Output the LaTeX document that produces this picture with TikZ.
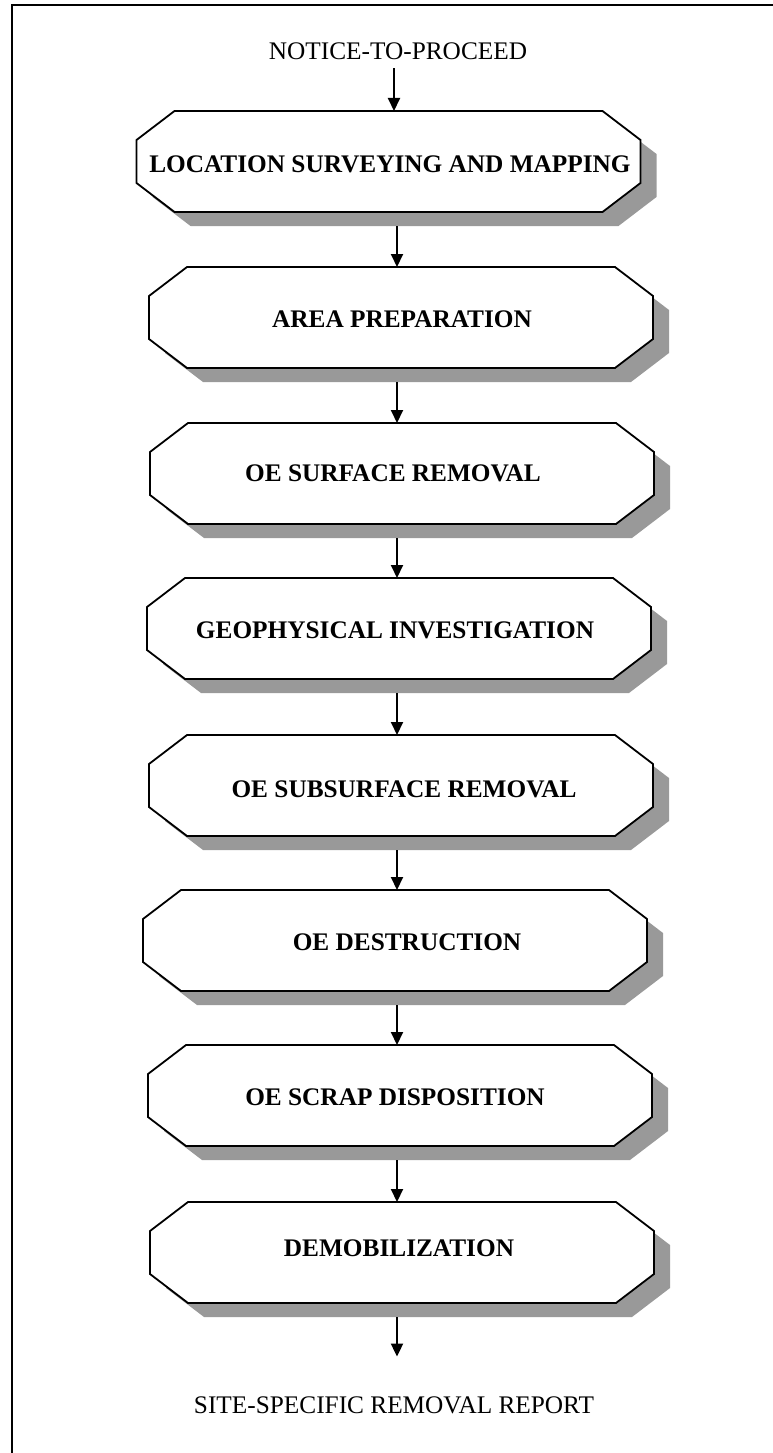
\documentclass[tikz,border=0pt]{standalone}
\usepackage{fontspec}
\setmainfont{Liberation Serif}
\usetikzlibrary{arrows.meta,calc}
\definecolor{shadowgray}{RGB}{153,153,153}

% Octagonal outline around a box node, shifted by (#2,#3); chamfers 38pt x 29pt
\newcommand\octpath[3]{%
  ([xshift=#2+38pt,yshift=#3]#1.north west) -- ([xshift=#2-38pt,yshift=#3]#1.north east)
  -- ([xshift=#2,yshift=#3-29pt]#1.north east) -- ([xshift=#2,yshift=#3+29pt]#1.south east)
  -- ([xshift=#2-38pt,yshift=#3]#1.south east) -- ([xshift=#2+38pt,yshift=#3]#1.south west)
  -- ([xshift=#2,yshift=#3+29pt]#1.south west) -- ([xshift=#2,yshift=#3-29pt]#1.north west) -- cycle}

% One process step: box name, box centre, label name, label base point, label text
\newcommand\flowstep[7]{%
  \node[boxframe] (#1) at (#2,#3) {};
  \fill[boxshadow] \octpath{#1}{16pt}{-14pt};
  \filldraw[boxoutline] \octpath{#1}{0pt}{0pt};
  \node[boxtext] (#4) at (#5,#6) {#7};
}

\begin{document}
\begin{tikzpicture}[x=1pt,y=-1pt,
  boxframe/.style={rectangle, inner sep=0pt, outer sep=0pt,
    minimum width=504pt, minimum height=101pt},
  boxtext/.style={font=\fontsize{25.3}{30}\selectfont\bfseries, inner sep=0pt, anchor=base},
  endtext/.style={font=\fontsize{25.3}{30}\selectfont, inner sep=0pt, anchor=base},
  flowarrow/.style={line width=2pt, -{Triangle[length=13pt,width=12pt]}},
  boxoutline/.style={line width=1.8pt, line join=miter, fill=white},
  boxshadow/.style={fill=shadowgray}]
\useasboundingbox (0,0) rectangle (773,1453);

% page frame
\draw[line width=2pt] (12,1453) -- (12,5) -- (773,5);

% arrow columns
\coordinate (ax1) at (394,0);
\coordinate (ax) at (397,0);

\node[endtext] (ntp) at (398,59.5) {NOTICE-TO-PROCEED};

\flowstep{b1}{388.5}{161.5}{t1}{390}{172}{LOCATION SURVEYING AND MAPPING}
\flowstep{b2}{401}{317.5}{t2}{402}{327}{AREA PREPARATION}
\flowstep{b3}{402}{473.5}{t3}{393}{481.5}{OE SURFACE REMOVAL}
\flowstep{b4}{399}{628.5}{t4}{395}{638}{GEOPHYSICAL INVESTIGATION}
\flowstep{b5}{401}{785.5}{t5}{404}{797.5}{OE SUBSURFACE REMOVAL}
\flowstep{b6}{395}{940.5}{t6}{407}{950.5}{OE DESTRUCTION}
\flowstep{b7}{400}{1095.5}{t7}{395}{1105.5}{OE SCRAP DISPOSITION}
\flowstep{b8}{402}{1252.5}{t8}{399}{1256.5}{DEMOBILIZATION}

\node[endtext] (ssr) at (394,1413.5) {SITE-SPECIFIC REMOVAL REPORT};

% connectors
\draw[flowarrow] ([yshift=-8.5pt]ntp.south -| ax1) -- (b1.north -| ax1);
\draw[flowarrow] ([yshift=-14pt]b1.south -| ax) -- (b2.north -| ax);
\draw[flowarrow] ([yshift=-14pt]b2.south -| ax) -- (b3.north -| ax);
\draw[flowarrow] ([yshift=-14pt]b3.south -| ax) -- (b4.north -| ax);
\draw[flowarrow] ([yshift=-14pt]b4.south -| ax) -- (b5.north -| ax);
\draw[flowarrow] ([yshift=-14pt]b5.south -| ax) -- (b6.north -| ax);
\draw[flowarrow] ([yshift=-14pt]b6.south -| ax) -- (b7.north -| ax);
\draw[flowarrow] ([yshift=-14pt]b7.south -| ax) -- (b8.north -| ax);
\draw[flowarrow] ([yshift=-14pt]b8.south -| ax) -- ([yshift=40pt]ssr.north -| ax);
\end{tikzpicture}
\end{document}
